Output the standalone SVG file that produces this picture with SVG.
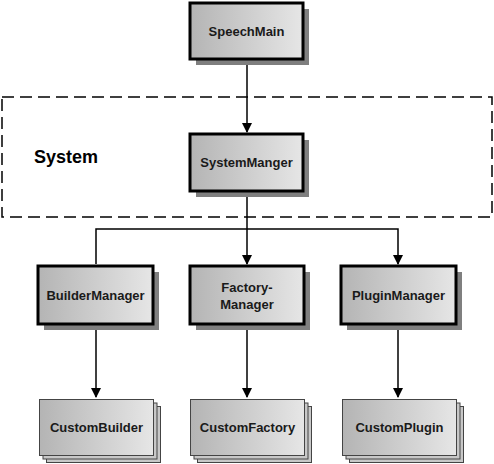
<svg xmlns="http://www.w3.org/2000/svg" width="494" height="464" viewBox="0 0 494 464">
<defs>
<linearGradient id="g" x1="0" y1="0" x2="1" y2="0">
<stop offset="0" stop-color="#b4b4b4"/>
<stop offset="1" stop-color="#e6e6e6"/>
</linearGradient>
<marker id="arr" markerWidth="10" markerHeight="12" refX="9" refY="5" orient="auto" markerUnits="userSpaceOnUse">
<path d="M0,0 L10,5 L0,10 z" fill="#000"/>
</marker>
<style>
.box{fill:url(#g);stroke:#000;stroke-width:3}
.shadow{fill:#7f7f7f}
.stk{fill:url(#g);stroke:#444;stroke-width:1}
.stkb{fill:#c8c8c8;stroke:#444;stroke-width:1}
.t{font-family:"Liberation Sans",Arial,sans-serif;font-weight:bold;font-size:13px;fill:#1a1a1a;text-anchor:middle}
.c{fill:none;stroke:#000;stroke-width:1.5}
</style>
</defs>
<rect x="2" y="97" width="490" height="120" fill="none" stroke="#000" stroke-width="1.5" stroke-dasharray="12,6"/>
<text x="34" y="163" font-family="'Liberation Sans',Arial,sans-serif" font-weight="bold" font-size="18" fill="#000">System</text>
<g id="connectors">
<path class="c" d="M247,59 V132" marker-end="url(#arr)"/>
<path class="c" d="M247,191 V264" marker-end="url(#arr)"/>
<path class="c" d="M96,264 V229 H398 V264" marker-end="url(#arr)"/>
<path class="c" d="M96,324 V397" marker-end="url(#arr)"/>
<path class="c" d="M247,324 V397" marker-end="url(#arr)"/>
<path class="c" d="M398,324 V397" marker-end="url(#arr)"/>
</g>
<g id="SpeechMain">
<rect class="shadow" x="196" y="9" width="113" height="56"/>
<rect class="box" x="190" y="3" width="113" height="56"/>
<text class="t" x="246.5" y="36">SpeechMain</text>
</g>
<g id="SystemManger">
<rect class="shadow" x="196" y="140" width="113" height="57"/>
<rect class="box" x="190" y="134" width="113" height="57"/>
<text class="t" x="246.5" y="167">SystemManger</text>
</g>
<g id="BuilderManager">
<rect class="shadow" x="44" y="272" width="115" height="58"/>
<rect class="box" x="38" y="266" width="115" height="58"/>
<text class="t" x="95.5" y="300">BuilderManager</text>
</g>
<g id="FactoryManager">
<rect class="shadow" x="196" y="272" width="114" height="58"/>
<rect class="box" x="190" y="266" width="114" height="58"/>
<text class="t" x="247" y="292">Factory-</text>
<text class="t" x="247" y="309">Manager</text>
</g>
<g id="PluginManager">
<rect class="shadow" x="347" y="272" width="115" height="58"/>
<rect class="box" x="341" y="266" width="115" height="58"/>
<text class="t" x="398.5" y="300">PluginManager</text>
</g>
<g id="CustomBuilder">
<rect class="stkb" x="46.5" y="406.5" width="114" height="56"/>
<rect class="stkb" x="43" y="403" width="114" height="56"/>
<rect class="stk" x="39.5" y="399.5" width="114" height="56"/>
<text class="t" x="96.5" y="432">CustomBuilder</text>
</g>
<g id="CustomFactory">
<rect class="stkb" x="197.5" y="406.5" width="114" height="56"/>
<rect class="stkb" x="194" y="403" width="114" height="56"/>
<rect class="stk" x="190.5" y="399.5" width="114" height="56"/>
<text class="t" x="247.5" y="432">CustomFactory</text>
</g>
<g id="CustomPlugin">
<rect class="stkb" x="349.5" y="406.5" width="114" height="56"/>
<rect class="stkb" x="346" y="403" width="114" height="56"/>
<rect class="stk" x="342.5" y="399.5" width="114" height="56"/>
<text class="t" x="399.5" y="432">CustomPlugin</text>
</g>
</svg>
